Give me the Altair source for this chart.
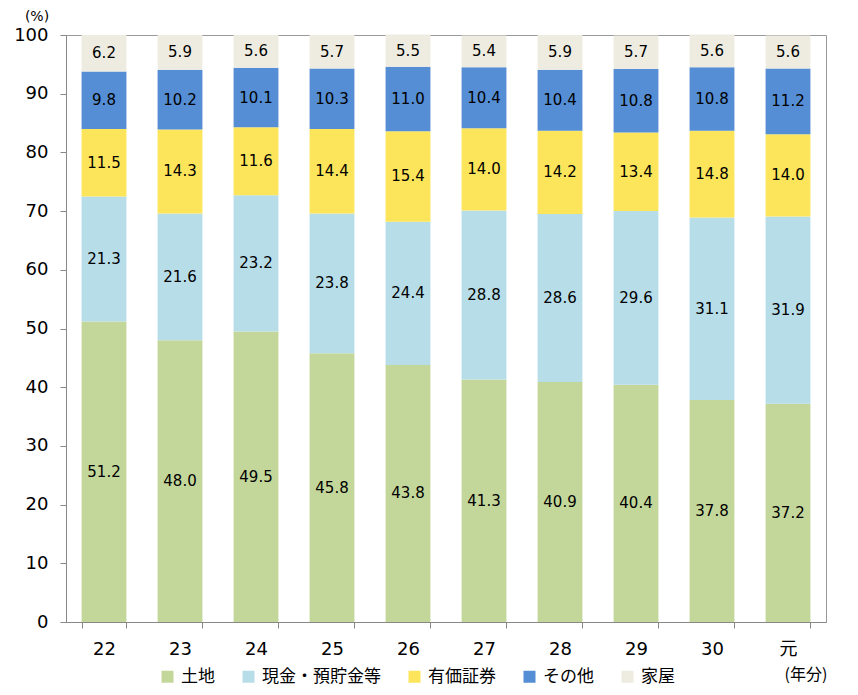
import altair as alt
import pandas as pd

years = ["22", "23", "24", "25", "26", "27", "28", "29", "30", "元"]
categories = ["土地", "現金・預貯金等", "有価証券", "その他", "家屋"]
colors = ["#c4d79b", "#b7dde8", "#fce55b", "#558ed5", "#eeece1"]

land = [51.2, 48.0, 49.5, 45.8, 43.8, 41.3, 40.9, 40.4, 37.8, 37.2]
cash = [21.3, 21.6, 23.2, 23.8, 24.4, 28.8, 28.6, 29.6, 31.1, 31.9]
securities = [11.5, 14.3, 11.6, 14.4, 15.4, 14.0, 14.2, 13.4, 14.8, 14.0]
other = [9.8, 10.2, 10.1, 10.3, 11.0, 10.4, 10.4, 10.8, 10.8, 11.2]
house = [6.2, 5.9, 5.6, 5.7, 5.5, 5.4, 5.9, 5.7, 5.6, 5.6]

series = [land, cash, securities, other, house]
rows = []
for ci, (cat, vals) in enumerate(zip(categories, series)):
    for y, v in zip(years, vals):
        rows.append({"year": y, "cat": cat, "value": v, "order": ci})
df = pd.DataFrame(rows)

FONT = "DejaVu Sans, Noto Sans CJK JP"

base = alt.Chart(df).transform_stack(
    stack="value", as_=["y0", "y1"], groupby=["year"],
    sort=[alt.SortField("order", order="ascending")]
).transform_calculate(mid="(datum.y0 + datum.y1) / 2")

x_enc = alt.X("year:N", sort=years,
              scale=alt.Scale(paddingInner=0.41, paddingOuter=0.205),
              axis=alt.Axis(title=None, labelAngle=0, labelFontSize=18,
                            labelFont=FONT, labelPadding=12, tickSize=6,
                            tickBand="extent", labelColor="#000"))

bars = base.mark_bar().encode(
    x=x_enc,
    y=alt.Y("y0:Q", scale=alt.Scale(domain=[0, 100], nice=False),
            axis=alt.Axis(title=None, values=list(range(0, 101, 10)),
                          labelFontSize=18, labelFont=FONT, labelPadding=12,
                          tickSize=6, grid=False, labelColor="#000")),
    y2="y1:Q",
    color=alt.Color("cat:N", scale=alt.Scale(domain=categories, range=colors),
                    legend=alt.Legend(title=None, orient="none", direction="horizontal",
                                      legendX=93, legendY=633, symbolType="square",
                                      symbolSize=144, symbolStrokeWidth=0,
                                      labelFontSize=17, labelFont="Noto Sans CJK JP",
                                      labelColor="#000", labelOffset=5,
                                      columnPadding=25, padding=0)),
)

labels = base.mark_text(fontSize=15, font=FONT, color="#000").encode(
    x=alt.X("year:N", sort=years),
    y=alt.Y("mid:Q"),
    text=alt.Text("value:Q", format=".1f"),
)

pct = alt.Chart(pd.DataFrame({"t": ["(%)"]})).mark_text(
    fontSize=14, font=FONT, color="#000", align="center", baseline="middle"
).encode(x=alt.value(-29), y=alt.value(-18), text="t:N")

unit = alt.Chart(pd.DataFrame({"t": ["(年分)"]})).mark_text(
    fontSize=16, font="Noto Sans CJK JP", color="#000", align="center", baseline="middle"
).encode(x=alt.value(740), y=alt.value(640), text="t:N")

chart = alt.layer(bars, labels, pct, unit).properties(
    width=760, height=587,
    autosize=alt.AutoSizeParams(type="none"),
    padding={"left": 58, "top": 27, "right": 24, "bottom": 65},
).configure_view(stroke="#999999").configure_axis(
    domainColor="#888888", tickColor="#888888"
)

chart.save("out.html", embed_options={"renderer": "svg", "actions": False})
